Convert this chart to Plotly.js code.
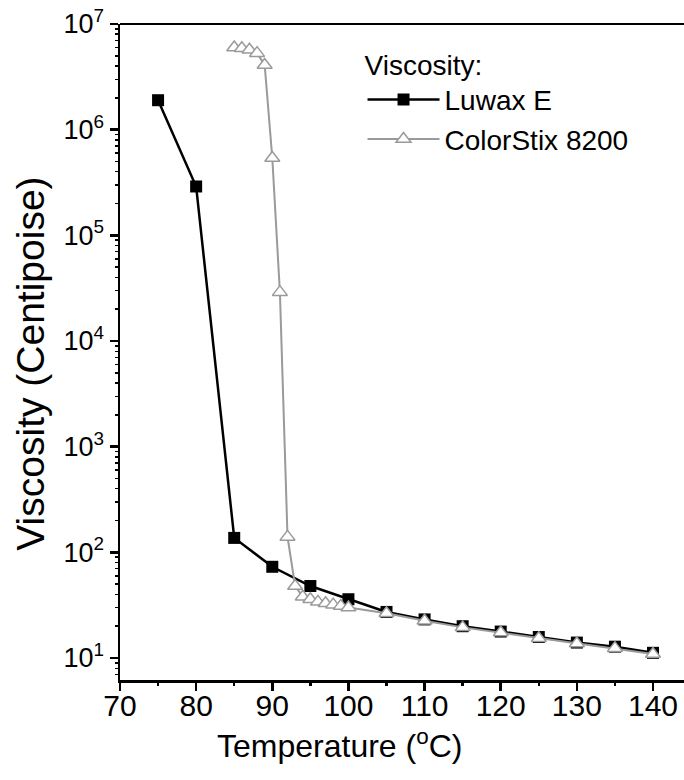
<!DOCTYPE html>
<html>
<head>
<meta charset="utf-8">
<script src="https://cdn.plot.ly/plotly-3.0.1.min.js"></script>
<style>html,body{margin:0;padding:0;background:#fff;}#chart{width:684px;height:780px;}</style>
</head>
<body>
<div id="chart"></div>
<script>
const luwaxTemp = [75, 80, 85, 90, 95, 100, 105, 110, 115, 120, 125, 130, 135, 140];
const luwaxVisc = [1.9e6, 2.9e5, 137, 73, 48, 36, 27.3, 23.2, 20, 17.8, 15.8, 14, 12.8, 11.2];

const colorTemp = [85, 86, 87, 88, 89, 90, 91, 92, 93, 94, 95, 96, 97, 98, 99, 100, 105, 110, 115, 120, 125, 130, 135, 140];
const colorVisc = [6.0e6, 5.9e6, 5.7e6, 5.3e6, 4.1e6, 5.4e5, 2.9e4, 140, 48, 38, 36, 34, 33, 32, 31, 30, 26.5, 22.5, 19.5, 17.4, 15.4, 13.7, 12.4, 10.9];

const seriesNames = ["Luwax E", "ColorStix 8200"];
const legendTitle = "Viscosity:";
const xTitle = "Temperature (<sup>o</sup>C)";
const yTitle = "Viscosity (Centipoise)";

const xTickVals = [70, 80, 90, 100, 110, 120, 130, 140];
const xTickText = ["70", "80", "90", "100", "110", "120", "130", "140"];
const xMinorVals = [75, 85, 95, 105, 115, 125, 135];

const yTickVals = [10, 100, 1000, 10000, 100000, 1000000, 10000000];
const yTickText = ["10<sup>1</sup>", "10<sup>2</sup>", "10<sup>3</sup>", "10<sup>4</sup>", "10<sup>5</sup>", "10<sup>6</sup>", "10<sup>7</sup>"];
const yMinorDigits = [2, 3, 4, 5, 6, 7, 8, 9];
const yMinorVals = [];
[1, 10, 100, 1000, 10000, 100000, 1000000].forEach(d => yMinorDigits.forEach(k => yMinorVals.push(k * d)));

const FONT = "Liberation Sans, Arial, sans-serif";
const YR = [0.792, 7];
const XR = [70, 144.07];

const traces = [
  {
    x: luwaxTemp, y: luwaxVisc, name: seriesNames[0],
    mode: "lines+markers", type: "scatter",
    line: {color: "#000", width: 2.5},
    marker: {symbol: "square", size: 12, color: "#000", line: {color: "#000", width: 0}}
  },
  {
    x: colorTemp, y: colorVisc, name: seriesNames[1],
    mode: "lines+markers", type: "scatter",
    line: {color: "#9a9a9a", width: 2},
    marker: {symbol: "triangle-up", size: 13, color: "#fff", line: {color: "#9a9a9a", width: 1.5}}
  },
  // invisible helper trace so the overlay axes carrying the minor ticks are drawn
  {x: [XR[0]], y: [10], xaxis: "x2", yaxis: "y2", mode: "markers", marker: {opacity: 0}, showlegend: false, hoverinfo: "skip"}
];

const layout = {
  width: 684, height: 780,
  margin: {l: 120, r: 0, t: 24, b: 100},
  paper_bgcolor: "#fff", plot_bgcolor: "rgba(0,0,0,0)",
  font: {family: FONT, color: "#000", size: 28},
  showlegend: true,
  legend: {
    x: 0.43, y: 0.978, xanchor: "left", yanchor: "top",
    bgcolor: "rgba(0,0,0,0)",
    font: {family: FONT, size: 28, color: "#000"},
    title: {text: legendTitle, font: {family: FONT, size: 28, color: "#000"}},
    itemwidth: 72, tracegroupgap: 0
  },
  xaxis: {
    range: XR,
    showline: true, linecolor: "#000", linewidth: 2.5,
    ticks: "outside", ticklen: 8, tickwidth: 2.5, tickcolor: "#000",
    tickvals: xTickVals, ticktext: xTickText,
    ticklabelstandoff: -11,
    showgrid: false, zeroline: false,
    tickfont: {family: FONT, size: 30}
  },
  xaxis2: {
    range: XR, overlaying: "x", anchor: "y",
    showline: false, ticks: "outside", ticklen: 5, tickwidth: 2.5, tickcolor: "#000",
    tickvals: xMinorVals, showticklabels: false, showgrid: false, zeroline: false
  },
  yaxis: {
    type: "log",
    range: YR,
    showline: true, linecolor: "#000", linewidth: 2.5,
    ticks: "outside", ticklen: 8, tickwidth: 2.5, tickcolor: "#000",
    tickvals: yTickVals, ticktext: yTickText,
    showgrid: false, zeroline: false,
    tickfont: {family: FONT, size: 27}
  },
  yaxis2: {
    type: "log",
    range: YR, overlaying: "y", anchor: "x", side: "left",
    showline: false, ticks: "outside", ticklen: 4, tickwidth: 1.5, tickcolor: "#000",
    tickvals: yMinorVals, showticklabels: false, showgrid: false, zeroline: false
  },
  annotations: [
    {text: xTitle, xref: "paper", yref: "paper", x: 0.39, y: -0.098, xanchor: "center", yanchor: "middle",
     showarrow: false, font: {family: FONT, size: 32, color: "#000"}},
    {text: yTitle, xref: "paper", yref: "paper", x: -0.158, y: 0.482, xanchor: "center", yanchor: "middle",
     textangle: -90, showarrow: false, font: {family: FONT, size: 39, color: "#000"}}
  ],
  shapes: [
    {type: "line", xref: "paper", yref: "paper", x0: 0, x1: 1, y0: 1, y1: 1, line: {color: "#000", width: 2}}
  ]
};

Plotly.newPlot("chart", traces, layout, {displayModeBar: false, staticPlot: true});
</script>
</body>
</html>
